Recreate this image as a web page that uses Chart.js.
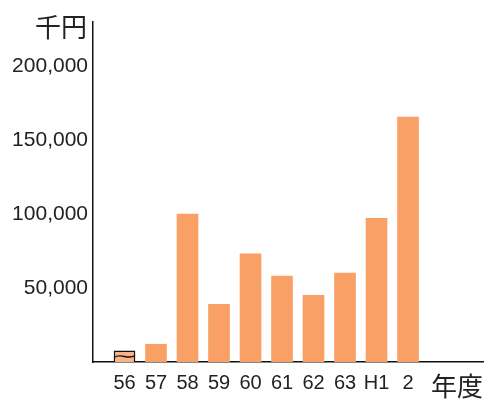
<!DOCTYPE html>
<html>
<head>
<meta charset="utf-8">
<script src="https://cdn.jsdelivr.net/npm/chart.js@4/dist/chart.umd.min.js"></script>
<style>
  html, body { margin: 0; padding: 0; background: #fff; }
  #wrap { width: 492px; height: 402px; }
</style>
</head>
<body>
<div id="wrap"><canvas id="c" width="492" height="402"></canvas></div>
<script>
// Fiscal years (Showa 56–63, Heisei 1–2)
const categories = ['56', '57', '58', '59', '60', '61', '62', '63', 'H1', '2'];
// Amount per year, in thousands of yen
const values = [7500, 12000, 100000, 39000, 73000, 58000, 45000, 60000, 97000, 165500];
// Labelled ticks on the value axis
const yTickValues = [50000, 100000, 150000, 200000];

const BAR = '#F9A066';
const INK = '#222222';

// Unit captions beside the axes, plus the wavy mark on the first bar
const decor = {
  id: 'decor',
  afterDatasetsDraw(chart) {
    const ctx = chart.ctx;
    const bar = chart.getDatasetMeta(0).data[0];
    if (bar) {
      const l = bar.x - bar.width / 2, r = bar.x + bar.width / 2;
      const mid = (bar.y + bar.base) / 2;
      ctx.save();
      ctx.strokeStyle = '#111';
      ctx.lineWidth = 1.4;
      ctx.beginPath();
      ctx.moveTo(l, mid + 1);
      ctx.bezierCurveTo(l + bar.width / 3, mid - 4, l + 2 * bar.width / 3, mid + 4, r, mid - 1);
      ctx.stroke();
      ctx.restore();
    }
  },
  afterDraw(chart) {
    const ctx = chart.ctx;
    const a = chart.chartArea;
    ctx.save();
    ctx.fillStyle = INK;
    ctx.font = '26px "Noto Sans CJK JP"';
    ctx.textBaseline = 'middle';
    ctx.textAlign = 'right';
    ctx.fillText('千円', a.left - 6, a.top + 5);
    ctx.fillText('年度', a.right, a.bottom + 24);
    ctx.restore();
  }
};

new Chart(document.getElementById('c'), {
  type: 'bar',
  data: {
    datasets: [{
      data: values.map((v, i) => ({ x: i + 1, y: v })),
      backgroundColor: values.map((v, i) => i === 0 ? '#F8B487' : BAR),
      borderColor: values.map((v, i) => i === 0 ? '#111' : 'rgba(0,0,0,0)'),
      borderWidth: values.map((v, i) => i === 0 ? 1.4 : 0),
      barThickness: 21
    }]
  },
  options: {
    responsive: false,
    animation: false,
    layout: { padding: { left: 0, right: 9, top: 22, bottom: 0 } },
    plugins: { legend: { display: false }, tooltip: { enabled: false } },
    scales: {
      x: {
        type: 'linear',
        offset: false,
        min: 0,
        max: 12.38,
        grid: { display: false, drawTicks: false, offset: false },
        border: { display: true, color: '#111', width: 1.5 },
        afterBuildTicks(scale) {
          scale.ticks = categories.map((c, i) => ({ value: i + 1 }));
        },
        afterFit(scale) { scale.height = 40; },
        ticks: {
          padding: 9,
          autoSkip: false,
          maxRotation: 0,
          color: INK,
          font: { family: '"Liberation Sans", Arial, sans-serif', size: 20 },
          callback: (v) => categories[v - 1]
        }
      },
      y: {
        min: 0,
        max: 229700,
        grid: { display: false, drawTicks: false },
        border: { display: true, color: '#111', width: 1.5 },
        afterBuildTicks(scale) {
          scale.ticks = yTickValues.map(v => ({ value: v }));
        },
        afterFit(scale) { scale.width = 93; },
        ticks: {
          padding: 5,
          color: INK,
          font: { family: '"Liberation Sans", Arial, sans-serif', size: 21 },
          callback: (v) => v.toLocaleString('en-US')
        }
      }
    }
  },
  plugins: [decor]
});
</script>
</body>
</html>
